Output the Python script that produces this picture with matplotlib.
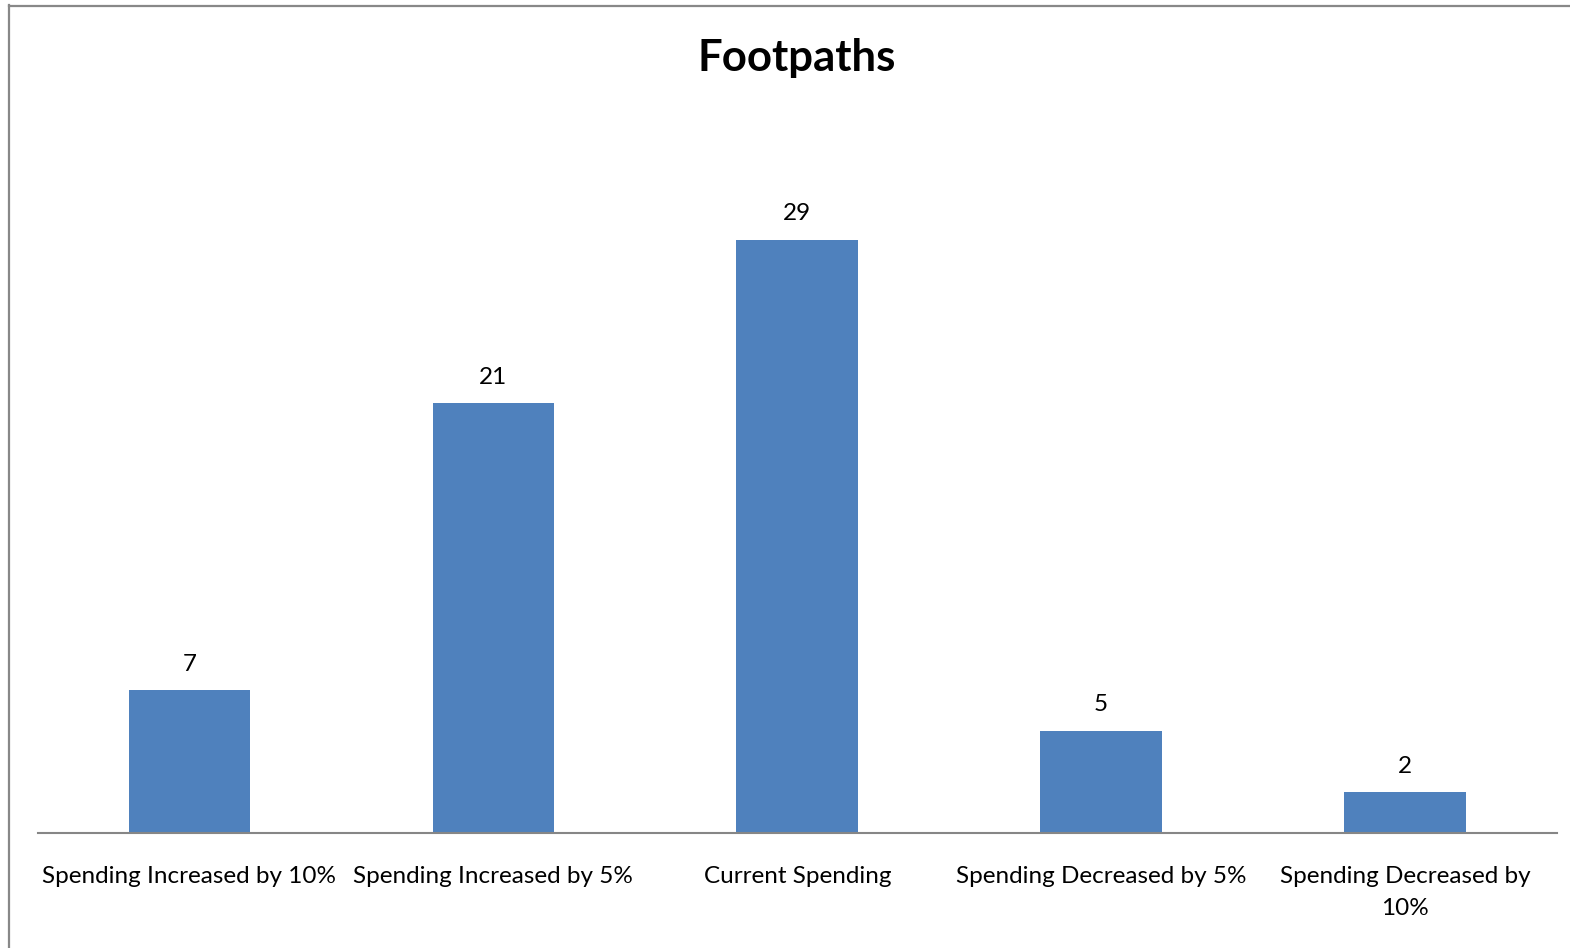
import matplotlib
matplotlib.use("Agg")
import matplotlib.pyplot as plt
from matplotlib.lines import Line2D

categories = [
    "Spending Increased by 10%",
    "Spending Increased by 5%",
    "Current Spending",
    "Spending Decreased by 5%",
    "Spending Decreased by\n10%",
]
values = [7, 21, 29, 5, 2]

W, H, DPI = 1570, 948, 100
fig = plt.figure(figsize=(W / DPI, H / DPI), dpi=DPI)
fig.patch.set_facecolor("white")

font = ["Lato", "DejaVu Sans"]

ax = fig.add_axes([37.5 / W, (H - 833) / H, (1557 - 37.5) / W, (833 - 117) / H])
x = list(range(len(categories)))
bars = ax.bar(x, values, width=0.4, color="#4F81BD", zorder=2)

ax.set_xlim(-0.5, len(categories) - 0.5)
ax.set_ylim(0, 35)
ax.set_yticks([])
ax.set_xticks(x)
ax.set_xticklabels(categories, fontsize=17.5, family=font, color="black",
                   linespacing=1.6)
ax.tick_params(axis="x", length=0, pad=24)
for s in ["top", "right", "left"]:
    ax.spines[s].set_visible(False)
ax.spines["bottom"].set_color("#868686")
ax.spines["bottom"].set_linewidth(1.5)

for xi, v in zip(x, values):
    ax.annotate(str(v), (xi, v), xytext=(0, 11), textcoords="offset points",
                ha="center", va="bottom", fontsize=17.5, family=font)

fig.text(797 / W, 1 - 58 / H, "Footpaths", ha="center", va="center",
         fontsize=31.5, fontweight="bold", family=font)

# chart frame edges
fig.add_artist(Line2D([8.5 / W, 8.5 / W], [0, 1 - 5 / H], transform=fig.transFigure,
                      color="#888888", lw=1.6))
fig.add_artist(Line2D([8.5 / W, 1], [1 - 5.5 / H, 1 - 5.5 / H], transform=fig.transFigure,
                      color="#888888", lw=1.6))

fig.savefig("out.png", dpi=DPI)
